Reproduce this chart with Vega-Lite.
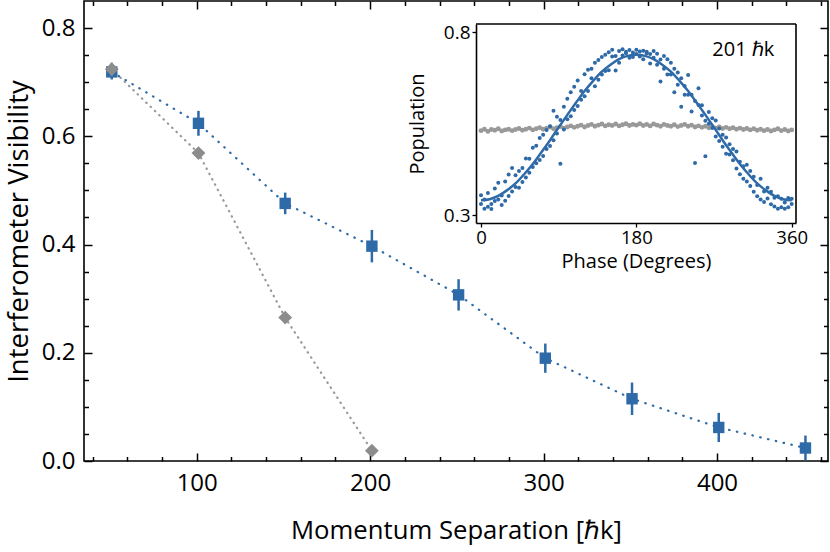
{
  "$schema": "https://vega.github.io/schema/vega-lite/v6.json",
  "width": 744,
  "height": 460,
  "autosize": {"type": "none"},
  "padding": {"left": 84, "top": 1, "right": 2, "bottom": 91},
  "config": {
    "font": "Open Sans",
    "view": {"stroke": "black", "strokeWidth": 1.6},
    "axis": {"labelColor": "black", "titleColor": "black", "tickColor": "black", "domainColor": "black", "labelFont": "Open Sans", "titleFont": "Open Sans", "titleFontWeight": "normal", "grid": false}
  },
  "datasets": {
    "vis": [
      {"x": 51, "y": 0.719, "lo": 0.705, "hi": 0.733, "s": "wave"},
      {"x": 101, "y": 0.624, "lo": 0.601, "hi": 0.647, "s": "wave"},
      {"x": 151, "y": 0.476, "lo": 0.456, "hi": 0.496, "s": "wave"},
      {"x": 201, "y": 0.397, "lo": 0.367, "hi": 0.427, "s": "wave"},
      {"x": 251, "y": 0.307, "lo": 0.278, "hi": 0.336, "s": "wave"},
      {"x": 301, "y": 0.190, "lo": 0.163, "hi": 0.217, "s": "wave"},
      {"x": 351, "y": 0.115, "lo": 0.085, "hi": 0.145, "s": "wave"},
      {"x": 401, "y": 0.062, "lo": 0.035, "hi": 0.089, "s": "wave"},
      {"x": 451, "y": 0.024, "lo": 0.001, "hi": 0.047, "s": "wave"},
      {"x": 51, "y": 0.724, "lo": 0.712, "hi": 0.736, "s": "gray"},
      {"x": 101, "y": 0.569, "lo": 0.561, "hi": 0.577, "s": "gray"},
      {"x": 151, "y": 0.265, "lo": 0.259, "hi": 0.271, "s": "gray"},
      {"x": 201, "y": 0.019, "lo": 0.014, "hi": 0.024, "s": "gray"}
    ],
    "blue": [
      {"p":0,"v":0.331},{"p":0,"v":0.355},{"p":4,"v":0.318},{"p":4,"v":0.343},{"p":8,"v":0.361},{"p":8,"v":0.323},
      {"p":12,"v":0.331},{"p":12,"v":0.317},{"p":16,"v":0.373},{"p":16,"v":0.339},{"p":20,"v":0.389},{"p":20,"v":0.343},
      {"p":24,"v":0.354},{"p":24,"v":0.328},{"p":28,"v":0.392},{"p":28,"v":0.340},{"p":32,"v":0.411},{"p":32,"v":0.353},
      {"p":36,"v":0.429},{"p":36,"v":0.365},{"p":40,"v":0.409},{"p":40,"v":0.377},{"p":44,"v":0.421},{"p":44,"v":0.375},
      {"p":48,"v":0.429},{"p":48,"v":0.391},{"p":52,"v":0.455},{"p":52,"v":0.403},{"p":56,"v":0.454},{"p":56,"v":0.416},
      {"p":60,"v":0.484},{"p":60,"v":0.432},{"p":64,"v":0.442},{"p":64,"v":0.490},{"p":68,"v":0.511},{"p":68,"v":0.451},
      {"p":72,"v":0.520},{"p":72,"v":0.462},{"p":76,"v":0.533},{"p":76,"v":0.481},{"p":80,"v":0.543},{"p":80,"v":0.489},
      {"p":84,"v":0.585},{"p":84,"v":0.505},{"p":88,"v":0.569},{"p":88,"v":0.523},{"p":92,"v":0.441},{"p":92,"v":0.560},
      {"p":96,"v":0.596},{"p":96,"v":0.534},{"p":100,"v":0.618},{"p":100,"v":0.562},{"p":104,"v":0.636},{"p":104,"v":0.570},
      {"p":108,"v":0.651},{"p":108,"v":0.587},{"p":112,"v":0.668},{"p":112,"v":0.598},{"p":116,"v":0.639},{"p":116,"v":0.615},
      {"p":120,"v":0.685},{"p":120,"v":0.625},{"p":124,"v":0.697},{"p":124,"v":0.639},{"p":128,"v":0.674},{"p":128,"v":0.700},
      {"p":132,"v":0.716},{"p":132,"v":0.652},{"p":136,"v":0.724},{"p":136,"v":0.670},{"p":140,"v":0.732},{"p":140,"v":0.684},
      {"p":144,"v":0.738},{"p":144,"v":0.694},{"p":148,"v":0.745},{"p":148,"v":0.696},{"p":152,"v":0.733},{"p":152,"v":0.752},
      {"p":156,"v":0.695},{"p":156,"v":0.735},{"p":160,"v":0.748},{"p":160,"v":0.716},{"p":164,"v":0.753},{"p":164,"v":0.736},
      {"p":168,"v":0.746},{"p":168,"v":0.742},{"p":172,"v":0.751},{"p":172,"v":0.730},{"p":176,"v":0.744},{"p":176,"v":0.732},
      {"p":180,"v":0.752},{"p":180,"v":0.740},{"p":184,"v":0.747},{"p":184,"v":0.733},{"p":188,"v":0.749},{"p":188,"v":0.726},
      {"p":192,"v":0.742},{"p":192,"v":0.746},{"p":196,"v":0.740},{"p":196,"v":0.714},{"p":200,"v":0.748},{"p":200,"v":0.730},
      {"p":204,"v":0.741},{"p":204,"v":0.711},{"p":208,"v":0.665},{"p":208,"v":0.725},{"p":212,"v":0.735},{"p":212,"v":0.700},
      {"p":216,"v":0.726},{"p":216,"v":0.684},{"p":220,"v":0.716},{"p":220,"v":0.684},{"p":224,"v":0.636},{"p":224,"v":0.700},
      {"p":228,"v":0.690},{"p":228,"v":0.656},{"p":232,"v":0.596},{"p":232,"v":0.674},{"p":236,"v":0.653},{"p":236,"v":0.629},
      {"p":240,"v":0.683},{"p":240,"v":0.629},{"p":244,"v":0.583},{"p":244,"v":0.629},{"p":248,"v":0.443},{"p":248,"v":0.612},
      {"p":252,"v":0.647},{"p":252,"v":0.601},{"p":256,"v":0.600},{"p":256,"v":0.572},{"p":260,"v":0.461},{"p":260,"v":0.558},
      {"p":264,"v":0.550},{"p":264,"v":0.582},{"p":268,"v":0.538},{"p":268,"v":0.565},{"p":272,"v":0.515},{"p":272,"v":0.559},
      {"p":276,"v":0.503},{"p":276,"v":0.537},{"p":280,"v":0.487},{"p":280,"v":0.520},{"p":284,"v":0.468},{"p":284,"v":0.512},
      {"p":288,"v":0.494},{"p":288,"v":0.466},{"p":292,"v":0.450},{"p":292,"v":0.481},{"p":296,"v":0.474},{"p":296,"v":0.428},
      {"p":300,"v":0.412},{"p":300,"v":0.446},{"p":304,"v":0.434},{"p":304,"v":0.400},{"p":308,"v":0.392},{"p":308,"v":0.438},
      {"p":312,"v":0.380},{"p":312,"v":0.421},{"p":316,"v":0.405},{"p":316,"v":0.364},{"p":320,"v":0.383},{"p":320,"v":0.352},
      {"p":324,"v":0.343},{"p":324,"v":0.400},{"p":328,"v":0.365},{"p":328,"v":0.336},{"p":332,"v":0.346},{"p":332,"v":0.375},
      {"p":336,"v":0.330},{"p":336,"v":0.364},{"p":340,"v":0.324},{"p":340,"v":0.348},{"p":344,"v":0.318},{"p":344,"v":0.352},
      {"p":348,"v":0.345},{"p":348,"v":0.322},{"p":352,"v":0.335},{"p":352,"v":0.318},{"p":356,"v":0.347},{"p":356,"v":0.322},
      {"p":360,"v":0.331},{"p":360,"v":0.345}
    ],
    "gray": [
      {"p":0,"v":0.531},{"p":4,"v":0.535},{"p":8,"v":0.529},{"p":12,"v":0.534},{"p":16,"v":0.532},{"p":20,"v":0.536},
      {"p":24,"v":0.530},{"p":28,"v":0.533},{"p":32,"v":0.535},{"p":36,"v":0.531},{"p":40,"v":0.534},{"p":44,"v":0.537},
      {"p":48,"v":0.532},{"p":52,"v":0.535},{"p":56,"v":0.538},{"p":60,"v":0.533},{"p":64,"v":0.536},{"p":68,"v":0.539},
      {"p":72,"v":0.535},{"p":76,"v":0.538},{"p":80,"v":0.541},{"p":84,"v":0.536},{"p":88,"v":0.539},{"p":92,"v":0.542},
      {"p":96,"v":0.538},{"p":100,"v":0.541},{"p":104,"v":0.544},{"p":108,"v":0.540},{"p":112,"v":0.543},{"p":116,"v":0.546},
      {"p":120,"v":0.541},{"p":124,"v":0.545},{"p":128,"v":0.548},{"p":132,"v":0.543},{"p":136,"v":0.546},{"p":140,"v":0.549},
      {"p":144,"v":0.544},{"p":148,"v":0.547},{"p":152,"v":0.545},{"p":156,"v":0.549},{"p":160,"v":0.544},{"p":164,"v":0.547},
      {"p":168,"v":0.550},{"p":172,"v":0.545},{"p":176,"v":0.548},{"p":180,"v":0.546},{"p":184,"v":0.550},{"p":188,"v":0.545},
      {"p":192,"v":0.548},{"p":196,"v":0.544},{"p":200,"v":0.549},{"p":204,"v":0.546},{"p":208,"v":0.543},{"p":212,"v":0.548},
      {"p":216,"v":0.545},{"p":220,"v":0.543},{"p":224,"v":0.547},{"p":228,"v":0.542},{"p":232,"v":0.545},{"p":236,"v":0.548},
      {"p":240,"v":0.543},{"p":244,"v":0.546},{"p":248,"v":0.541},{"p":252,"v":0.544},{"p":256,"v":0.540},{"p":260,"v":0.543},
      {"p":264,"v":0.539},{"p":268,"v":0.542},{"p":272,"v":0.538},{"p":276,"v":0.541},{"p":280,"v":0.537},{"p":284,"v":0.540},
      {"p":288,"v":0.536},{"p":292,"v":0.539},{"p":296,"v":0.535},{"p":300,"v":0.538},{"p":304,"v":0.534},{"p":308,"v":0.537},
      {"p":312,"v":0.533},{"p":316,"v":0.536},{"p":320,"v":0.532},{"p":324,"v":0.535},{"p":328,"v":0.531},{"p":332,"v":0.534},
      {"p":336,"v":0.530},{"p":340,"v":0.533},{"p":344,"v":0.536},{"p":348,"v":0.531},{"p":352,"v":0.534},{"p":356,"v":0.530},
      {"p":360,"v":0.533}
    ],
    "fit": [
      {"p":0,"v":0.341},{"p":10,"v":0.344},{"p":20,"v":0.353},{"p":30,"v":0.368},{"p":40,"v":0.387},{"p":50,"v":0.412},
      {"p":60,"v":0.440},{"p":70,"v":0.472},{"p":80,"v":0.505},{"p":90,"v":0.540},{"p":100,"v":0.574},{"p":110,"v":0.607},
      {"p":120,"v":0.639},{"p":130,"v":0.667},{"p":140,"v":0.692},{"p":150,"v":0.711},{"p":160,"v":0.726},{"p":170,"v":0.735},
      {"p":180,"v":0.738},{"p":190,"v":0.735},{"p":200,"v":0.726},{"p":210,"v":0.711},{"p":220,"v":0.692},{"p":230,"v":0.667},
      {"p":240,"v":0.639},{"p":250,"v":0.607},{"p":260,"v":0.574},{"p":270,"v":0.540},{"p":280,"v":0.505},{"p":290,"v":0.472},
      {"p":300,"v":0.440},{"p":310,"v":0.412},{"p":320,"v":0.387},{"p":330,"v":0.368},{"p":340,"v":0.353},{"p":350,"v":0.344},
      {"p":360,"v":0.341}
    ]
  },
  "layer": [
    {
      "data": {"name": "vis"},
      "encoding": {
        "x": {"field": "x", "type": "quantitative", "scale": {"domain": [35, 464], "nice": false, "zero": false},
          "axis": {"orient": "bottom", "title": "Momentum Separation [ℏk]", "titleFontSize": 25.7, "titlePadding": 23,
            "values": [40,60,80,100,120,140,160,180,200,220,240,260,280,300,320,340,360,380,400,420,440,460],
            "labelExpr": "datum.value % 100 === 0 ? datum.label : ''",
            "tickSize": {"condition": {"test": "datum.value % 100 === 0", "value": -8}, "value": -4.5},
            "tickWidth": 1.5, "labelFontSize": 24, "labelPadding": 18, "domain": false}},
        "y": {"field": "y", "type": "quantitative", "scale": {"domain": [0, 0.85], "nice": false, "zero": false},
          "axis": {"orient": "left", "title": "Interferometer Visibility", "titleFontSize": 27.5, "titlePadding": 8,
            "values": [0,0.05,0.1,0.15,0.2,0.25,0.3,0.35,0.4,0.45,0.5,0.55,0.6,0.65,0.7,0.75,0.8],
            "labelExpr": "round(datum.value*100) % 20 === 0 ? format(datum.value, '.1f') : ''",
            "tickSize": {"condition": {"test": "round(datum.value*100) % 20 === 0", "value": -8}, "value": -4.5},
            "tickWidth": 1.5, "labelFontSize": 24, "labelPadding": 17, "domain": false}}
      },
      "layer": [
        {"transform": [{"filter": "datum.s === 'wave'"}], "mark": {"type": "line", "color": "#2e6aa7", "strokeWidth": 2.2, "strokeCap": "round", "strokeDash": [0.5, 7.5]}},
        {"transform": [{"filter": "datum.s === 'gray'"}], "mark": {"type": "line", "color": "#9a9a9a", "strokeWidth": 2.2, "strokeCap": "round", "strokeDash": [0.5, 5.5]}},
        {"transform": [{"filter": "datum.s === 'wave'"}], "mark": {"type": "rule", "color": "#2e6aa7", "strokeWidth": 2.5}, "encoding": {"y": {"field": "lo", "type": "quantitative"}, "y2": {"field": "hi"}}},
        {"transform": [{"filter": "datum.s === 'wave'"}], "mark": {"type": "point", "shape": "square", "filled": true, "size": 130, "color": "#2e6aa7", "opacity": 1}},
        {"transform": [{"filter": "datum.s === 'gray'"}], "mark": {"type": "rule", "color": "#8c8c8c", "strokeWidth": 2.5}, "encoding": {"y": {"field": "lo", "type": "quantitative"}, "y2": {"field": "hi"}}},
        {"transform": [{"filter": "datum.s === 'gray'"}], "mark": {"type": "point", "shape": "diamond", "filled": true, "size": 190, "color": "#8c8c8c", "opacity": 1}}
      ]
    },
    {
      "data": {"name": "vis"},
      "mark": {"type": "point", "opacity": 0},
      "encoding": {
        "x": {"field": "x", "type": "quantitative", "scale": {"domain": [35, 464], "nice": false, "zero": false},
          "axis": {"orient": "top", "title": null, "labels": false, "domain": false,
            "values": [40,60,80,100,120,140,160,180,200,220,240,260,280,300,320,340,360,380,400,420,440,460],
            "tickSize": {"condition": {"test": "datum.value % 100 === 0", "value": -8}, "value": -4.5}, "tickWidth": 1.5}},
        "y": {"field": "y", "type": "quantitative", "scale": {"domain": [0, 0.85], "nice": false, "zero": false},
          "axis": {"orient": "right", "title": null, "labels": false, "domain": false,
            "values": [0,0.05,0.1,0.15,0.2,0.25,0.3,0.35,0.4,0.45,0.5,0.55,0.6,0.65,0.7,0.75,0.8],
            "tickSize": {"condition": {"test": "round(datum.value*100) % 20 === 0", "value": -8}, "value": -4.5}, "tickWidth": 1.5}}
      }
    },
    {
      "layer": [
        {"data": {"name": "gray"}, "mark": {"type": "circle", "size": 24, "color": "#999999", "opacity": 1},
          "encoding": {
            "x": {"field": "p", "type": "quantitative", "title": "Phase (Degrees)", "scale": {"domain": [-5.8, 365], "range": [392, 712], "nice": false, "zero": false},
              "axis": {"orient": "bottom", "offset": -238, "titleFontSize": 20, "titlePadding": 5,
                "values": [0, 180, 360], "tickSize": 4, "tickWidth": 1.3, "labelFontSize": 18.5, "labelPadding": 1, "domain": true, "domainWidth": 1.6}},
            "y": {"field": "v", "type": "quantitative", "title": "Population", "scale": {"domain": [0.279, 0.822], "range": [222, 23], "nice": false, "zero": false},
              "axis": {"orient": "left", "offset": -392, "titleFontSize": 20, "titlePadding": 16,
                "values": [0.3, 0.8], "format": ".1f", "tickSize": 4, "tickWidth": 1.3, "labelFontSize": 19, "labelPadding": 2, "domain": true, "domainWidth": 1.6}}
          }},
        {"data": {"name": "blue"}, "mark": {"type": "circle", "size": 16, "color": "#2e6aa7", "opacity": 1},
          "encoding": {"x": {"field": "p", "type": "quantitative", "title": "Phase (Degrees)"}, "y": {"field": "v", "type": "quantitative", "title": "Population"}}},
        {"data": {"name": "fit"}, "mark": {"type": "line", "color": "#2e6aa7", "strokeWidth": 2.5, "interpolate": "monotone"},
          "encoding": {"x": {"field": "p", "type": "quantitative", "title": "Phase (Degrees)"}, "y": {"field": "v", "type": "quantitative", "title": "Population"}}},
        {"data": {"values": [{"t": "201 ℏk"}]}, "mark": {"type": "text", "fontSize": 20, "font": "Open Sans", "color": "black"},
          "encoding": {"text": {"field": "t"}, "x": {"datum": 304, "type": "quantitative", "title": "Phase (Degrees)"}, "y": {"datum": 0.751, "type": "quantitative", "title": "Population"}}},
        {"data": {"values": [{"t": "box"}]}, "mark": {"type": "rule", "color": "black", "strokeWidth": 1.6},
          "encoding": {"x": {"datum": -5.8, "type": "quantitative", "title": "Phase (Degrees)"}, "x2": {"datum": 365}, "y": {"datum": 0.822, "type": "quantitative", "title": "Population"}}},
        {"data": {"values": [{"t": "box"}]}, "mark": {"type": "rule", "color": "black", "strokeWidth": 1.6},
          "encoding": {"x": {"datum": 365, "type": "quantitative", "title": "Phase (Degrees)"}, "y": {"datum": 0.279, "type": "quantitative", "title": "Population"}, "y2": {"datum": 0.822}}}
      ]
    }
  ],
  "resolve": {"scale": {"x": "independent", "y": "independent"}, "axis": {"x": "independent", "y": "independent"}}
}
